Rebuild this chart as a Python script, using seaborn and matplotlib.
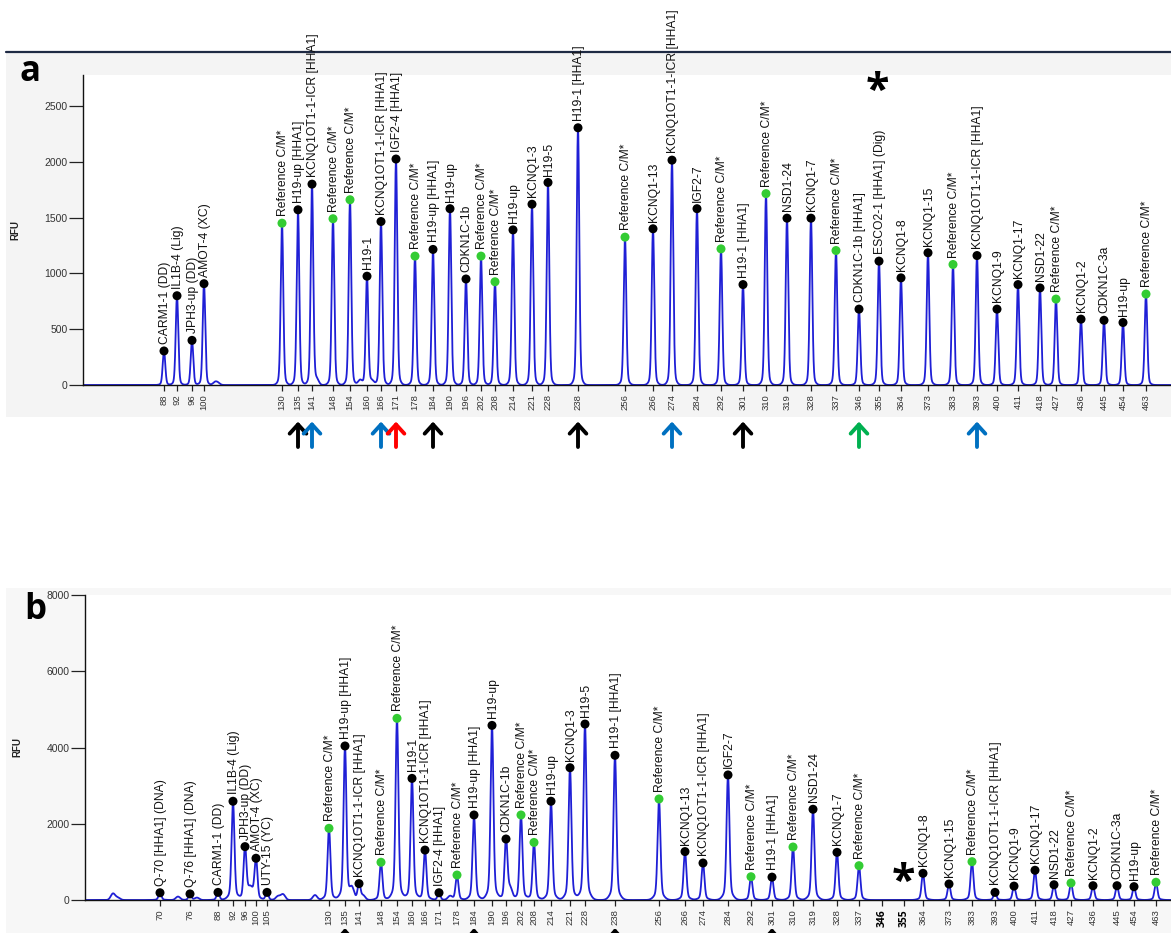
import numpy as np
import pandas as pd
import matplotlib
matplotlib.use("Agg")
import matplotlib.pyplot as plt
from matplotlib.patches import Rectangle
from matplotlib.lines import Line2D
import seaborn as sns

# ---------------- panel a: MS-MLPA probes ----------------
sizes_a = [88, 92, 96, 100, 130, 135, 141, 148, 154, 160, 166, 171, 178, 184,
           190, 196, 202, 208, 214, 221, 228, 238, 256, 266, 274, 284, 292, 301,
           310, 319, 328, 337, 346, 355, 364, 373, 383, 393, 400, 411, 418, 427,
           436, 445, 454, 463]
# migration position of each peak (scan points)
scan_a = [1324, 1376, 1436, 1484, 1796, 1860, 1916, 2000, 2068, 2136, 2192, 2252,
          2328, 2400, 2468, 2532, 2592, 2648, 2720, 2796, 2860, 2980, 3168, 3280,
          3356, 3456, 3552, 3640, 3732, 3816, 3912, 4012, 4104, 4184, 4272, 4380,
          4480, 4576, 4656, 4740, 4828, 4892, 4992, 5084, 5160, 5252]
rfu_a = [305, 800, 400, 908, 1450, 1570, 1800, 1490, 1660, 975, 1465, 2025,
         1155, 1215, 1580, 950, 1155, 925, 1390, 1620, 1815, 2305, 1325, 1400,
         2015, 1580, 1220, 900, 1715, 1495, 1495, 1205, 680, 1110, 960, 1185,
         1080, 1160, 680, 900, 870, 770, 590, 580, 560, 815]
probes_a = ["CARM1-1 (DD)", "IL1B-4 (Lig)", "JPH3-up (DD)", "AMOT-4 (XC)",
            "Reference C/M*", "H19-up [HHA1]", "KCNQ1OT1-1-ICR [HHA1]",
            "Reference C/M*", "Reference C/M*", "H19-1", "KCNQ1OT1-1-ICR [HHA1]",
            "IGF2-4 [HHA1]", "Reference C/M*", "H19-up [HHA1]", "H19-up",
            "CDKN1C-1b", "Reference C/M*", "Reference C/M*", "H19-up", "KCNQ1-3",
            "H19-5", "H19-1 [HHA1]", "Reference C/M*", "KCNQ1-13",
            "KCNQ1OT1-1-ICR [HHA1]", "IGF2-7", "Reference C/M*", "H19-1 [HHA1]",
            "Reference C/M*", "NSD1-24", "KCNQ1-7", "Reference C/M*",
            "CDKN1C-1b [HHA1]", "ESCO2-1 [HHA1] (Dig)", "KCNQ1-8", "KCNQ1-15",
            "Reference C/M*", "KCNQ1OT1-1-ICR [HHA1]", "KCNQ1-9", "KCNQ1-17",
            "NSD1-22", "Reference C/M*", "KCNQ1-2", "CDKN1C-3a", "H19-up",
            "Reference C/M*"]
minor_scan_a = [1528, 1540, 1936, 2108, 2156]
minor_rfu_a = [25, 18, 40, 45, 35]
arrow_sizes_a = [135, 141, 166, 171, 184, 238, 274, 301, 346, 393]
arrow_colors_a = ["black", "#0070c0", "#0070c0", "#ff0000", "black", "black",
                  "#0070c0", "black", "#00b050", "#0070c0"]

# ---------------- panel b ----------------
sizes_b = [70, 76, 88, 92, 96, 100, 105, 130, 135, 141, 148, 154, 160, 166, 171,
           178, 184, 190, 196, 202, 208, 214, 221, 228, 238, 256, 266, 274, 284,
           292, 301, 310, 319, 328, 337, 364, 373, 383, 393, 400, 411, 418, 427,
           436, 445, 454, 463]
scan_b = [1300, 1420, 1532, 1592, 1640, 1684, 1728, 1976, 2040, 2096, 2184, 2248,
          2308, 2360, 2416, 2488, 2556, 2628, 2684, 2744, 2796, 2864, 2940, 3000,
          3120, 3296, 3400, 3472, 3572, 3664, 3748, 3832, 3912, 4008, 4096, 4352,
          4456, 4548, 4640, 4716, 4800, 4876, 4944, 5032, 5128, 5196, 5284]
rfu_b = [190, 160, 200, 2590, 1400, 1095, 200, 1880, 4040, 430, 990, 4765, 3190,
         1310, 190, 655, 2230, 4580, 1600, 2230, 1510, 2590, 3470, 4615, 3795,
         2650, 1270, 970, 3280, 610, 600, 1390, 2380, 1250, 900, 700, 420, 1005,
         200, 365, 780, 400, 445, 375, 375, 350, 465]
probes_b = ["Q-70 [HHA1] (DNA)", "Q-76 [HHA1] (DNA)", "CARM1-1 (DD)",
            "IL1B-4 (Lig)", "JPH3-up (DD)", "AMOT-4 (XC)", "UTY-15 (YC)",
            "Reference C/M*", "H19-up [HHA1]", "KCNQ1OT1-1-ICR [HHA1]",
            "Reference C/M*", "Reference C/M*", "H19-1", "KCNQ1OT1-1-ICR [HHA1]",
            "IGF2-4 [HHA1]", "Reference C/M*", "H19-up [HHA1]", "H19-up",
            "CDKN1C-1b", "Reference C/M*", "Reference C/M*", "H19-up", "KCNQ1-3",
            "H19-5", "H19-1 [HHA1]", "Reference C/M*", "KCNQ1-13",
            "KCNQ1OT1-1-ICR [HHA1]", "IGF2-7", "Reference C/M*", "H19-1 [HHA1]",
            "Reference C/M*", "NSD1-24", "KCNQ1-7", "Reference C/M*", "KCNQ1-8",
            "KCNQ1-15", "Reference C/M*", "KCNQ1OT1-1-ICR [HHA1]", "KCNQ1-9",
            "KCNQ1-17", "NSD1-22", "Reference C/M*", "KCNQ1-2", "CDKN1C-3a",
            "H19-up", "Reference C/M*"]
# sizes without a peak (ESCO2-1 and CDKN1C-1b [HHA1] missing)
empty_sizes_b = [346, 355]
empty_scan_b = [4188, 4276]
minor_scan_b = [1112, 1132, 1372, 1448, 1656, 1668, 1772, 1792, 1920, 2068,
                2112, 2460, 2700]
minor_rfu_b = [170, 60, 90, 60, 200, 170, 100, 150, 130, 280, 110, 100, 280]
arrow_sizes_b = [135, 184, 238, 301]

W, H = 1171, 933
BLUE = "#1f1fd6"
GREEN = "#33cc33"

sns.set_theme(style="white")
plt.rcParams["font.family"] = ["Liberation Sans", "DejaVu Sans"]
plt.rcParams["mathtext.fontset"] = "custom"
plt.rcParams["mathtext.rm"] = "Open Sans"
plt.rcParams["mathtext.bf"] = "Open Sans:bold"

fig = plt.figure(figsize=(W / 100, H / 100), dpi=100)
fig.patch.set_facecolor("white")


def fbox(x0, y0, x1, y1):
    """pixel box (top-left origin) -> figure fraction [l, b, w, h]"""
    return [x0 / W, 1 - y1 / H, (x1 - x0) / W, (y1 - y0) / H]


# window backgrounds
fig.add_artist(Rectangle((6 / W, 1 - 417 / H), 1, (417 - 52) / H,
                         transform=fig.transFigure, facecolor="#f4f4f4",
                         edgecolor="none", zorder=-5))
fig.add_artist(Rectangle((6 / W, 0), 1, (933 - 588) / H,
                         transform=fig.transFigure, facecolor="#f7f7f7",
                         edgecolor="none", zorder=-5))
fig.add_artist(Line2D([6 / W, 1], [1 - 52 / H, 1 - 52 / H],
                      transform=fig.transFigure, color="#1e2a44", lw=1.6,
                      zorder=-4))


def trace(xs, pos, hts, mpos, mhts, core, skirt, skirt_frac):
    y = np.zeros_like(xs)
    for p, h in zip(pos, hts):
        y += h * (1 - skirt_frac) * np.exp(-0.5 * ((xs - p) / core) ** 2)
        y += h * skirt_frac * np.exp(-0.5 * ((xs - p) / skirt) ** 2)
    for p, h in zip(mpos, mhts):
        y += h * np.exp(-0.5 * ((xs - p) / (core * 1.6)) ** 2)
    return y


def panel(ax, scans, rfus, names, mpos, mhts, xlim, ylim, yticks,
          tick_pos, tick_lab, core, skirt, skirt_frac):
    xs = np.linspace(xlim[0], xlim[1], 9000)
    ys = trace(xs, scans, rfus, mpos, mhts, core, skirt, skirt_frac)
    df = pd.DataFrame({"scan": xs, "rfu": ys})
    sns.lineplot(data=df, x="scan", y="rfu", ax=ax, color=BLUE, lw=1.3,
                 estimator=None, sort=False, zorder=2)
    pk = pd.DataFrame({"scan": scans, "rfu": rfus,
                       "kind": ["ref" if n.startswith("Reference") else "probe"
                                for n in names]})
    sns.scatterplot(data=pk, x="scan", y="rfu", hue="kind",
                    palette={"ref": GREEN, "probe": "black"}, s=42,
                    edgecolor="none", legend=False, ax=ax, zorder=4)
    for x, h, n in zip(scans, rfus, names):
        ax.annotate(n, (x, h), xytext=(0.5, 5), textcoords="offset points",
                    rotation=90, ha="center", va="bottom", fontsize=8.7,
                    color="#111111", annotation_clip=False, zorder=5)
    ax.set_xlim(*xlim)
    ax.set_ylim(*ylim)
    ax.set_yticks(yticks)
    ax.set_yticklabels([str(v) for v in yticks], fontsize=7.5, color="#333333")
    ax.set_xticks(tick_pos)
    ax.set_xticklabels([str(v) for v in tick_lab], rotation=90, fontsize=6.8,
                       color="#333333")
    ax.tick_params(axis="y", direction="out", length=10, width=0.9, pad=1,
                   left=True, color="#222222")
    ax.tick_params(axis="x", direction="out", length=4.5, width=0.9, pad=2,
                   bottom=True, color="#222222")
    for s in ("top", "right"):
        ax.spines[s].set_visible(False)
    for s in ("left", "bottom"):
        ax.spines[s].set_color("#111111")
        ax.spines[s].set_linewidth(1.0)
    ax.set_xlabel("")
    ax.set_ylabel("")
    ax.set_facecolor("white")
    ax.grid(False)


# ---------------- draw panel a ----------------
ax_a = fig.add_axes(fbox(83, 75, 1171, 385))
panel(ax_a, scan_a, rfu_a, probes_a, minor_scan_a, minor_rfu_a,
      (1000, 5352), (0, 2778), [0, 500, 1000, 1500, 2000, 2500],
      scan_a, sizes_a, core=5.0, skirt=12.0, skirt_frac=0.06)
for sz, c in zip(arrow_sizes_a, arrow_colors_a):
    x = scan_a[sizes_a.index(sz)]
    ax_a.annotate("", xy=(x, -0.118), xytext=(x, -0.2),
                  xycoords=("data", "axes fraction"),
                  textcoords=("data", "axes fraction"),
                  arrowprops=dict(arrowstyle="->,head_length=0.55,head_width=0.5",
                                  lw=2.8, color=c, shrinkA=0, shrinkB=0),
                  annotation_clip=False)
fig.text(15 / W, 1 - 230 / H, "RFU", rotation=90, ha="center", va="center",
         fontsize=7, fontweight="bold", color="#222222")
fig.text(30 / W, 1 - 72 / H, "a", ha="center", va="center", fontsize=25,
         fontweight="bold", family="Open Sans", color="black")
fig.text(877 / W, 1 - 92 / H, r"$\mathbf{*}$", ha="center", va="center",
         fontsize=31, color="black")

# ---------------- draw panel b ----------------
ax_b = fig.add_axes(fbox(85, 595, 1171, 900))
tick_b = sorted(list(zip(scan_b, sizes_b)) + list(zip(empty_scan_b, empty_sizes_b)))
panel(ax_b, scan_b, rfu_b, probes_b, minor_scan_b, minor_rfu_b,
      (1000, 5344), (0, 8000), [0, 2000, 4000, 6000, 8000],
      [t[0] for t in tick_b], [t[1] for t in tick_b],
      core=5.5, skirt=16.0, skirt_frac=0.09)
for lab in ax_b.get_xticklabels():
    if lab.get_text() in [str(v) for v in empty_sizes_b]:
        lab.set_fontweight("bold")
        lab.set_family("Open Sans")
        lab.set_color("black")
        lab.set_fontsize(7.5)
for sz in arrow_sizes_b:
    x = scan_b[sizes_b.index(sz)]
    ax_b.annotate("", xy=(x, -0.092), xytext=(x, -0.2),
                  xycoords=("data", "axes fraction"),
                  textcoords=("data", "axes fraction"),
                  arrowprops=dict(arrowstyle="->,head_length=0.55,head_width=0.5",
                                  lw=2.8, color="black", shrinkA=0, shrinkB=0),
                  annotation_clip=False)
fig.text(17 / W, 1 - 747 / H, "RFU", rotation=90, ha="center", va="center",
         fontsize=7, fontweight="bold", color="#222222")
fig.text(35 / W, 1 - 610 / H, "b", ha="center", va="center", fontsize=25,
         fontweight="bold", family="Open Sans", color="black")
fig.text(903 / W, 1 - 883 / H, r"$\mathbf{*}$", ha="center", va="center",
         fontsize=31, color="black")

fig.savefig("out.png", dpi=100, facecolor="white")
